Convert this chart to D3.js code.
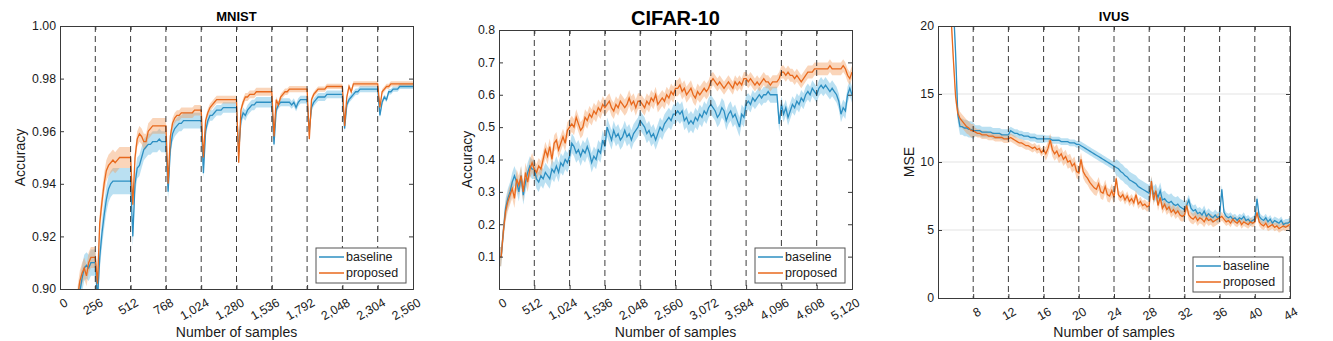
<!DOCTYPE html>
<html>
<head>
<meta charset="utf-8">
<script src="https://cdn.jsdelivr.net/npm/d3@7"></script>
<style>
body { margin: 0; background: #fff; }
svg { font-family: "Liberation Sans", Arial, Helvetica, sans-serif; }
</style>
</head>
<body>
<script>
// ---- MNIST: accuracy every 16 samples, starting at 128 ----
const mnistBaseline = [
    0.895, 0.899, 0.904, 0.908, 0.909, 0.908, 0.910, 0.910, 0.910,
    0.896, 0.912, 0.921, 0.928, 0.934, 0.938, 0.940, 0.941, 0.941, 0.941, 0.941, 0.941, 0.941, 0.941, 0.941, 0.941,
    0.920, 0.940, 0.946, 0.947, 0.950, 0.953, 0.954, 0.955, 0.955, 0.956, 0.956, 0.956, 0.957, 0.956, 0.956, 0.956,
    0.937, 0.953, 0.959, 0.961, 0.962, 0.963, 0.963, 0.964, 0.964, 0.964, 0.964, 0.964, 0.964, 0.964, 0.964, 0.964,
    0.944, 0.960, 0.964, 0.966, 0.966, 0.967, 0.968, 0.968, 0.968, 0.969, 0.969, 0.969, 0.969, 0.969, 0.969, 0.969,
    0.952, 0.964, 0.967, 0.966, 0.968, 0.969, 0.970, 0.970, 0.971, 0.971, 0.971, 0.971, 0.971, 0.971, 0.971, 0.971,
    0.955, 0.968, 0.970, 0.971, 0.971, 0.971, 0.971, 0.971, 0.970, 0.971, 0.969, 0.971, 0.972, 0.972, 0.972, 0.972,
    0.960, 0.969, 0.971, 0.972, 0.973, 0.973, 0.973, 0.973, 0.974, 0.974, 0.974, 0.974, 0.974, 0.974, 0.974, 0.974,
    0.961, 0.970, 0.972, 0.973, 0.974, 0.975, 0.975, 0.976, 0.976, 0.976, 0.976, 0.976, 0.976, 0.976, 0.976, 0.976,
    0.966, 0.971, 0.973, 0.972, 0.975, 0.975, 0.976, 0.976, 0.976, 0.977, 0.977, 0.977, 0.977, 0.977, 0.977, 0.977
]
const mnistProposed = [
    0.897, 0.903, 0.906, 0.908, 0.905, 0.910, 0.912, 0.912, 0.912,
    0.902, 0.925, 0.933, 0.940, 0.945, 0.947, 0.948, 0.949, 0.948, 0.949, 0.950, 0.950, 0.950, 0.950, 0.950, 0.950,
    0.932, 0.950, 0.957, 0.959, 0.958, 0.956, 0.956, 0.960, 0.961, 0.962, 0.962, 0.962, 0.962, 0.962, 0.962, 0.962,
    0.940, 0.958, 0.963, 0.965, 0.966, 0.966, 0.967, 0.967, 0.967, 0.967, 0.967, 0.967, 0.968, 0.968, 0.968, 0.968,
    0.950, 0.964, 0.967, 0.969, 0.970, 0.971, 0.972, 0.972, 0.972, 0.972, 0.972, 0.972, 0.972, 0.972, 0.972, 0.972,
    0.948, 0.968, 0.971, 0.973, 0.973, 0.974, 0.974, 0.974, 0.975, 0.975, 0.975, 0.975, 0.975, 0.975, 0.975, 0.975,
    0.958, 0.972, 0.970, 0.973, 0.974, 0.975, 0.975, 0.976, 0.976, 0.976, 0.976, 0.976, 0.976, 0.976, 0.976, 0.976,
    0.957, 0.972, 0.974, 0.975, 0.976, 0.976, 0.976, 0.976, 0.977, 0.977, 0.977, 0.977, 0.977, 0.977, 0.977, 0.977,
    0.962, 0.973, 0.977, 0.975, 0.978, 0.978, 0.978, 0.978, 0.978, 0.978, 0.978, 0.978, 0.978, 0.978, 0.978, 0.978,
    0.969, 0.975, 0.976, 0.977, 0.977, 0.978, 0.978, 0.978, 0.978, 0.978, 0.978, 0.978, 0.978, 0.978, 0.978, 0.978
]
// band half widths, one per round of 256 samples
const mnistBaselineStd = [0.005, 0.005, 0.004, 0.003, 0.002, 0.002, 0.0015, 0.0015, 0.0012, 0.001]
const mnistProposedStd = [0.004, 0.004, 0.003, 0.002, 0.0015, 0.0015, 0.0012, 0.001, 0.001, 0.001]
const mnistXTicks = [0, 256, 512, 768, 1024, 1280, 1536, 1792, 2048, 2304, 2560]
const mnistYTicks = [0.90, 0.92, 0.94, 0.96, 0.98, 1.00]
const mnistRounds = [256, 512, 768, 1024, 1280, 1536, 1792, 2048, 2304]

// ---- CIFAR-10: accuracy every 32 samples, starting at 0 ----
const cifarBaseline = [
    0.10, 0.10, 0.18, 0.25, 0.28, 0.30, 0.33, 0.35, 0.33, 0.30, 0.35, 0.29, 0.33, 0.36, 0.38, 0.37, 0.37,
    0.34, 0.33, 0.35, 0.34, 0.36, 0.35, 0.34, 0.37, 0.36, 0.38, 0.36, 0.39, 0.38, 0.40, 0.39, 0.41,
    0.45, 0.44, 0.42, 0.43, 0.41, 0.43, 0.42, 0.44, 0.42, 0.39, 0.41, 0.40, 0.43, 0.42, 0.46, 0.44,
    0.50, 0.48, 0.46, 0.49, 0.47, 0.48, 0.46, 0.47, 0.49, 0.47, 0.48, 0.46, 0.48, 0.49, 0.50, 0.52,
    0.51, 0.50, 0.48, 0.49, 0.47, 0.48, 0.46, 0.48, 0.50, 0.49, 0.51, 0.52, 0.53, 0.52, 0.54, 0.54,
    0.55, 0.54, 0.55, 0.52, 0.53, 0.51, 0.52, 0.51, 0.53, 0.52, 0.54, 0.53, 0.55, 0.54, 0.56, 0.57,
    0.56, 0.55, 0.53, 0.54, 0.56, 0.55, 0.52, 0.54, 0.55, 0.53, 0.54, 0.52, 0.50, 0.54, 0.53, 0.57,
    0.58, 0.57, 0.59, 0.58, 0.59, 0.60, 0.59, 0.60, 0.60, 0.61, 0.60, 0.60, 0.60, 0.60, 0.51, 0.57,
    0.54, 0.56, 0.53, 0.55, 0.57, 0.56, 0.58, 0.57, 0.59, 0.58, 0.60, 0.61, 0.60, 0.62, 0.61, 0.60,
    0.62, 0.63, 0.62, 0.63, 0.62, 0.61, 0.62, 0.61, 0.60, 0.58, 0.54, 0.56, 0.55, 0.60, 0.62, 0.60
]
const cifarProposed = [
    0.10, 0.10, 0.18, 0.24, 0.27, 0.29, 0.31, 0.28, 0.34, 0.32, 0.35, 0.30, 0.36, 0.33, 0.37, 0.39, 0.37,
    0.36, 0.38, 0.37, 0.40, 0.43, 0.41, 0.44, 0.40, 0.45, 0.46, 0.43, 0.45, 0.47, 0.45, 0.49, 0.50,
    0.51, 0.50, 0.53, 0.51, 0.49, 0.50, 0.53, 0.52, 0.54, 0.53, 0.55, 0.54, 0.56, 0.55, 0.57, 0.56,
    0.57, 0.58, 0.56, 0.55, 0.57, 0.56, 0.58, 0.57, 0.56, 0.57, 0.59, 0.57, 0.58, 0.56, 0.58, 0.58,
    0.57, 0.56, 0.58, 0.57, 0.59, 0.58, 0.60, 0.57, 0.58, 0.59, 0.58, 0.60, 0.59, 0.61, 0.60, 0.62,
    0.62, 0.63, 0.61, 0.62, 0.60, 0.61, 0.62, 0.60, 0.59, 0.61, 0.60, 0.61, 0.62, 0.61, 0.62, 0.64,
    0.65, 0.64, 0.63, 0.64, 0.63, 0.62, 0.63, 0.64, 0.63, 0.62, 0.64, 0.63, 0.64, 0.63, 0.65, 0.65,
    0.64, 0.65, 0.64, 0.63, 0.64, 0.63, 0.64, 0.65, 0.64, 0.64, 0.63, 0.64, 0.64, 0.64, 0.65, 0.67,
    0.67, 0.66, 0.67, 0.66, 0.66, 0.65, 0.66, 0.65, 0.64, 0.65, 0.66, 0.67, 0.67, 0.67, 0.68, 0.68,
    0.68, 0.68, 0.68, 0.68, 0.68, 0.69, 0.68, 0.68, 0.68, 0.68, 0.68, 0.69, 0.68, 0.66, 0.65, 0.67
]
const cifarBaselineStd = [0.03, 0.03, 0.03, 0.03, 0.03, 0.03, 0.03, 0.025, 0.025, 0.025]
const cifarProposedStd = [0.03, 0.025, 0.025, 0.025, 0.025, 0.025, 0.02, 0.02, 0.02, 0.02]
const cifarXTicks = [0, 512, 1024, 1536, 2048, 2560, 3072, 3584, 4096, 4608, 5120]
const cifarYTicks = [0.1, 0.2, 0.3, 0.4, 0.5, 0.6, 0.7, 0.8]
const cifarRounds = [512, 1024, 1536, 2048, 2560, 3072, 3584, 4096, 4608]

// ---- IVUS: MSE every 0.25 samples, starting at 4 ----
const ivusBaseline = [
    30, 29, 28, 27, 26, 25, 23.5, 21.5, 18, 13.5, 12.6, 12.6, 12.5, 12.5, 12.4, 12.4, 12.3,
    12.3, 12.3, 12.3, 12.2, 12.2, 12.2, 12.2, 12.2, 12.1, 12.1, 12.1, 12.1, 12.0, 12.0, 12.0, 12.0,
    12.3, 12.2, 12.1, 12.1, 12.0, 12.0, 11.9, 11.9, 11.9, 11.8, 11.8, 11.8, 11.7, 11.7, 11.7, 11.7,
    11.7, 11.7, 11.7, 11.6, 11.6, 11.6, 11.6, 11.5, 11.5, 11.5, 11.5, 11.4, 11.4, 11.4, 11.3, 11.3,
    11.2, 11.1, 11.0, 10.9, 10.8, 10.7, 10.6, 10.5, 10.4, 10.3, 10.2, 10.1, 10.0, 9.9, 9.8, 9.7,
    9.6, 9.5, 9.3, 9.2, 9.0, 8.9, 8.7, 8.6, 8.5, 8.4, 8.2, 8.1, 8.0, 7.9, 7.8, 7.7,
    8.3, 7.6, 7.8, 7.4, 7.9, 7.2, 7.3, 7.1, 7.0, 7.1, 6.9, 6.8, 6.9, 6.7, 6.6, 6.5,
    6.8, 7.2, 6.6, 6.4, 6.5, 6.2, 6.3, 6.1, 6.4, 6.0, 6.2, 6.0, 5.9, 6.1, 5.9, 6.0,
    8.0, 6.3, 6.0, 5.9, 6.0, 5.8, 5.9, 5.7, 5.9, 5.8, 6.0, 5.7, 5.8, 5.6, 5.7, 5.8,
    7.3, 6.0, 5.8, 5.7, 5.9, 5.6, 5.8, 5.5, 5.7, 5.6, 5.5, 5.7, 5.4, 5.5, 5.5, 5.6
]
const ivusProposed = [
    34, 32, 30, 28, 26, 23, 20.5, 17.5, 14.8, 13.6, 13.2, 13.0, 12.8, 12.6, 12.5, 12.3, 12.3,
    12.2, 12.1, 12.1, 12.0, 12.0, 12.0, 11.9, 11.9, 11.9, 11.8, 11.8, 11.8, 11.8, 11.7, 11.7, 11.7,
    11.8, 11.7, 11.6, 11.5, 11.4, 11.4, 11.3, 11.2, 11.2, 11.1, 11.0, 11.1, 10.9, 11.0, 10.7, 10.9,
    10.6, 11.0, 11.6, 10.9, 10.6, 10.8, 10.4, 10.6, 10.2, 10.4, 10.0, 10.1, 9.7, 9.9, 9.3, 9.2,
    10.2, 9.3, 9.0, 8.8, 8.5, 8.3, 8.1, 8.0, 8.4, 7.8, 7.7, 8.2, 7.6, 7.5, 7.9, 7.4,
    8.8, 7.6, 7.4, 7.6, 7.2, 7.5, 7.1, 7.3, 7.0, 7.6, 6.9, 7.1, 6.8, 6.9, 6.7, 6.8,
    8.6, 7.2, 7.9, 6.8, 7.4, 6.6, 6.9, 6.5, 6.7, 6.3, 6.5, 6.2, 6.4, 6.1, 6.0, 6.1,
    6.8, 6.1, 5.9, 5.8, 6.0, 5.7, 5.9, 5.8, 5.6, 5.9, 5.7, 5.8, 5.6, 5.7, 5.8, 5.9,
    6.0, 5.8, 5.6, 5.7, 5.5, 5.8, 5.6, 5.5, 5.7, 5.4, 5.6, 5.5, 5.4, 5.6, 5.5, 5.6,
    6.3, 5.6, 5.4, 5.3, 5.5, 5.2, 5.3, 5.4, 5.2, 5.3, 5.1, 5.2, 5.3, 5.2, 5.3, 5.4
]
const ivusBaselineStd = [0.6, 0.4, 0.3, 0.25, 0.3, 0.6, 0.6, 0.4, 0.3, 0.3]
const ivusProposedStd = [0.5, 0.3, 0.3, 0.5, 0.5, 0.35, 0.4, 0.4, 0.3, 0.3]
const ivusXTicks = [8, 12, 16, 20, 24, 28, 32, 36, 40, 44]
const ivusYTicks = [0, 5, 10, 15, 20]
const ivusGrid = [5, 10, 15]
const ivusRounds = [8, 12, 16, 20, 24, 28, 32, 36, 40, 44]

const seriesNames = ["baseline", "proposed"]

const width = 1333
const height = 341
const blue = "#2d8fc2"
const orange = "#e8691d"
const blueBand = "#5ab6e0"
const orangeBand = "#f39a5a"
const axisColor = "#3a3a3a"
const textColor = "#1a1a1a"

const svg = d3.select("body").append("svg")
    .attr("width", width)
    .attr("height", height)

const panels = [
    {
        title: "MNIST", titleSize: 13, yLabel: "Accuracy",
        box: { l: 60, r: 413, t: 26, b: 289 },
        xDomain: [0, 2560], yDomain: [0.90, 1.00],
        xTicks: mnistXTicks, yTicks: mnistYTicks, yFmt: d3.format(".2f"), xFmt: d3.format(","),
        rounds: mnistRounds, x0: 128, step: 16, roundStart: 0, roundSize: 256,
        base: mnistBaseline, prop: mnistProposed, baseStd: mnistBaselineStd, propStd: mnistProposedStd,
        labelX: 20
    },
    {
        title: "CIFAR-10", titleSize: 20, yLabel: "Accuracy",
        box: { l: 499, r: 852, t: 30, b: 289 },
        xDomain: [0, 5120], yDomain: [0, 0.8],
        xTicks: cifarXTicks, yTicks: cifarYTicks, yFmt: d3.format(".1f"), xFmt: d3.format(","),
        rounds: cifarRounds, x0: 0, step: 32, roundStart: 0, roundSize: 512,
        base: cifarBaseline, prop: cifarProposed, baseStd: cifarBaselineStd, propStd: cifarProposedStd,
        labelX: 467
    },
    {
        title: "IVUS", titleSize: 13, yLabel: "MSE",
        box: { l: 938, r: 1290, t: 26, b: 298 },
        xDomain: [4, 44], yDomain: [0, 20],
        xTicks: ivusXTicks, yTicks: ivusYTicks, yFmt: d3.format("d"), xFmt: d3.format("d"),
        rounds: ivusRounds, x0: 4, step: 0.25, roundStart: 4, roundSize: 4,
        base: ivusBaseline, prop: ivusProposed, baseStd: ivusBaselineStd, propStd: ivusProposedStd,
        grid: ivusGrid, labelX: 909
    }
]

panels.forEach((p, idx) => drawPanel(p, idx))

function drawPanel(p, idx) {
    const box = p.box
    const x = d3.scaleLinear().domain(p.xDomain).range([box.l, box.r])
    const y = d3.scaleLinear().domain(p.yDomain).range([box.b, box.t])
    const g = svg.append("g")

    g.append("clipPath").attr("id", "clip" + idx)
        .append("rect")
        .attr("x", box.l).attr("y", box.t)
        .attr("width", box.r - box.l).attr("height", box.b - box.t)

    if (p.grid) {
        g.append("g").selectAll("line")
            .data(p.grid)
            .join("line")
            .attr("x1", box.l).attr("x2", box.r)
            .attr("y1", d => y(d)).attr("y2", d => y(d))
            .attr("stroke", "#e3e3e3")
            .attr("stroke-width", 1)
    }

    const plot = g.append("g").attr("clip-path", `url(#clip${idx})`)
    const stdAt = (arr, xv) => {
        let r = Math.ceil((xv - p.roundStart) / p.roundSize) - 1
        r = Math.max(0, Math.min(arr.length - 1, r))
        return arr[r]
    }
    const series = [
        { vals: p.base, std: p.baseStd, line: blue, band: blueBand },
        { vals: p.prop, std: p.propStd, line: orange, band: orangeBand }
    ]
    series.forEach(s => {
        s.pts = s.vals.map((v, i) => {
            const xv = p.x0 + i * p.step
            return { x: xv, v: v, s: stdAt(s.std, xv) }
        })
    })

    series.forEach(s => {
        plot.append("path")
            .datum(s.pts)
            .attr("d", d3.area().x(d => x(d.x)).y0(d => y(d.v - d.s)).y1(d => y(d.v + d.s)))
            .attr("fill", s.band)
            .attr("fill-opacity", 0.42)
    })
    series.forEach(s => {
        plot.append("path")
            .datum(s.pts)
            .attr("d", d3.line().x(d => x(d.x)).y(d => y(d.v)))
            .attr("fill", "none")
            .attr("stroke", s.line)
            .attr("stroke-width", 1.3)
    })

    // round boundaries
    plot.append("g").selectAll("line")
        .data(p.rounds)
        .join("line")
        .attr("x1", d => x(d)).attr("x2", d => x(d))
        .attr("y1", box.t).attr("y2", box.b)
        .attr("stroke", "#1a1a1a")
        .attr("stroke-opacity", 0.85)
        .attr("stroke-width", 1)
        .attr("stroke-dasharray", "6,4")

    // axes, ticks inward on all sides
    const tick = 4
    const xAxisB = d3.axisBottom(x).tickValues(p.xTicks).tickSize(-tick).tickFormat("")
    const xAxisT = d3.axisTop(x).tickValues(p.xTicks).tickSize(-tick).tickFormat("")
    const yAxisL = d3.axisLeft(y).tickValues(p.yTicks).tickSize(-tick).tickFormat("")
    const yAxisR = d3.axisRight(y).tickValues(p.yTicks).tickSize(-tick).tickFormat("")
    const axes = [
        g.append("g").attr("transform", `translate(0,${box.b})`).call(xAxisB),
        g.append("g").attr("transform", `translate(0,${box.t})`).call(xAxisT),
        g.append("g").attr("transform", `translate(${box.l},0)`).call(yAxisL),
        g.append("g").attr("transform", `translate(${box.r},0)`).call(yAxisR)
    ]
    axes.forEach(a => {
        a.select(".domain").attr("stroke", axisColor).attr("stroke-width", 1)
        a.selectAll(".tick line").attr("stroke", axisColor)
    })

    // tick labels
    g.append("g").selectAll("text")
        .data(p.yTicks)
        .join("text")
        .attr("x", box.l - 4)
        .attr("y", d => y(d))
        .attr("dy", "0.35em")
        .attr("text-anchor", "end")
        .attr("font-size", 12.3)
        .attr("fill", textColor)
        .text(p.yFmt)

    g.append("g").selectAll("text")
        .data(p.xTicks)
        .join("text")
        .attr("transform", d => `translate(${x(d) + 4},${box.b + 8}) rotate(-30)`)
        .attr("dy", "0.75em")
        .attr("text-anchor", "end")
        .attr("font-size", 12.3)
        .attr("fill", textColor)
        .text(p.xFmt)

    // titles and labels
    const cx = (box.l + box.r) / 2
    g.append("text")
        .attr("x", cx).attr("y", box.t - 5)
        .attr("text-anchor", "middle")
        .attr("font-weight", "bold")
        .attr("font-size", p.titleSize)
        .text(p.title)

    g.append("text")
        .attr("x", cx).attr("y", 337)
        .attr("text-anchor", "middle")
        .attr("font-size", 14)
        .attr("fill", textColor)
        .text("Number of samples")

    g.append("text")
        .attr("transform", `translate(${p.labelX},${(box.t + box.b) / 2}) rotate(-90)`)
        .attr("dy", "0.35em")
        .attr("text-anchor", "middle")
        .attr("font-size", 14)
        .attr("fill", textColor)
        .text(p.yLabel)

    // legend
    const lw = 90, lh = 35
    const lx = box.r - 7 - lw
    const ly = box.b - 6 - lh
    const lg = g.append("g")
    lg.append("rect")
        .attr("x", lx).attr("y", ly)
        .attr("width", lw).attr("height", lh)
        .attr("fill", "#fff")
        .attr("stroke", "#555")
        .attr("stroke-width", 1)
    seriesNames.forEach((name, i) => {
        const yy = ly + 9 + i * 16
        lg.append("line")
            .attr("x1", lx + 3).attr("x2", lx + 28)
            .attr("y1", yy).attr("y2", yy)
            .attr("stroke", i == 0 ? blue : orange)
            .attr("stroke-width", 1.5)
        lg.append("text")
            .attr("x", lx + 30).attr("y", yy)
            .attr("dy", "0.35em")
            .attr("font-size", 12.5)
            .attr("fill", textColor)
            .text(name)
    })
}
</script>
</body>
</html>
